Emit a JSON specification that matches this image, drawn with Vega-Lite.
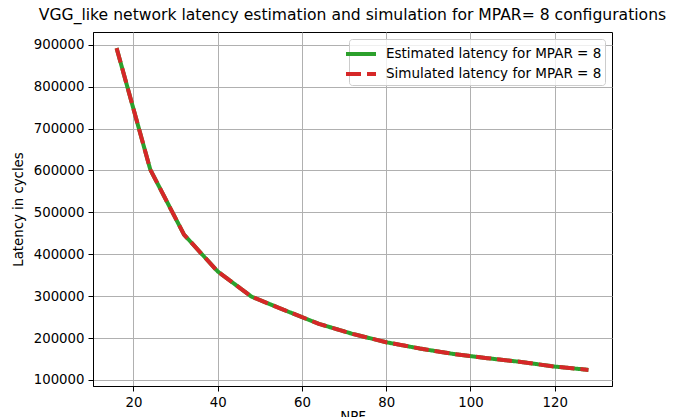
{
  "$schema": "https://vega.github.io/schema/vega-lite/v6.json",
  "width": 519,
  "height": 354,
  "autosize": {"type": "none"},
  "padding": {"left": 93, "top": 32, "right": 66, "bottom": 31},
  "background": "white",
  "config": {
    "font": "DejaVu Sans",
    "view": {"stroke": "black", "strokeWidth": 1},
    "axis": {
      "domainColor": "black",
      "tickColor": "black",
      "tickSize": 5,
      "labelPadding": 4,
      "labelFontSize": 13.3,
      "labelColor": "black",
      "titleFontSize": 13.3,
      "titleFontWeight": "normal",
      "titleColor": "black",
      "gridColor": "#b0b0b0",
      "gridWidth": 1
    }
  },
  "title": {
    "text": "VGG_like network latency estimation and simulation for MPAR= 8 configurations",
    "fontSize": 15.6,
    "fontWeight": "normal",
    "color": "black",
    "anchor": "middle",
    "offset": 8
  },
  "data": {
    "values": [
      {"NPF": 16, "latency": 892000, "series": "Estimated latency for MPAR = 8"},
      {"NPF": 24, "latency": 602000, "series": "Estimated latency for MPAR = 8"},
      {"NPF": 32, "latency": 447000, "series": "Estimated latency for MPAR = 8"},
      {"NPF": 40, "latency": 359000, "series": "Estimated latency for MPAR = 8"},
      {"NPF": 48, "latency": 299000, "series": "Estimated latency for MPAR = 8"},
      {"NPF": 56, "latency": 266000, "series": "Estimated latency for MPAR = 8"},
      {"NPF": 64, "latency": 234000, "series": "Estimated latency for MPAR = 8"},
      {"NPF": 72, "latency": 210000, "series": "Estimated latency for MPAR = 8"},
      {"NPF": 80, "latency": 190000, "series": "Estimated latency for MPAR = 8"},
      {"NPF": 88, "latency": 175000, "series": "Estimated latency for MPAR = 8"},
      {"NPF": 96, "latency": 162000, "series": "Estimated latency for MPAR = 8"},
      {"NPF": 104, "latency": 152000, "series": "Estimated latency for MPAR = 8"},
      {"NPF": 112, "latency": 143000, "series": "Estimated latency for MPAR = 8"},
      {"NPF": 120, "latency": 132000, "series": "Estimated latency for MPAR = 8"},
      {"NPF": 128, "latency": 124000, "series": "Estimated latency for MPAR = 8"},
      {"NPF": 16, "latency": 892000, "series": "Simulated latency for MPAR = 8"},
      {"NPF": 24, "latency": 602000, "series": "Simulated latency for MPAR = 8"},
      {"NPF": 32, "latency": 447000, "series": "Simulated latency for MPAR = 8"},
      {"NPF": 40, "latency": 359000, "series": "Simulated latency for MPAR = 8"},
      {"NPF": 48, "latency": 299000, "series": "Simulated latency for MPAR = 8"},
      {"NPF": 56, "latency": 266000, "series": "Simulated latency for MPAR = 8"},
      {"NPF": 64, "latency": 234000, "series": "Simulated latency for MPAR = 8"},
      {"NPF": 72, "latency": 210000, "series": "Simulated latency for MPAR = 8"},
      {"NPF": 80, "latency": 190000, "series": "Simulated latency for MPAR = 8"},
      {"NPF": 88, "latency": 175000, "series": "Simulated latency for MPAR = 8"},
      {"NPF": 96, "latency": 162000, "series": "Simulated latency for MPAR = 8"},
      {"NPF": 104, "latency": 152000, "series": "Simulated latency for MPAR = 8"},
      {"NPF": 112, "latency": 143000, "series": "Simulated latency for MPAR = 8"},
      {"NPF": 120, "latency": 132000, "series": "Simulated latency for MPAR = 8"},
      {"NPF": 128, "latency": 124000, "series": "Simulated latency for MPAR = 8"}
    ]
  },
  "mark": {"type": "line", "strokeWidth": 4, "clip": true},
  "encoding": {
    "x": {
      "field": "NPF",
      "type": "quantitative",
      "scale": {"domain": [10.4, 133.6], "nice": false, "zero": false},
      "axis": {"values": [20, 40, 60, 80, 100, 120], "format": "d", "title": "NPF", "titlePadding": 1}
    },
    "y": {
      "field": "latency",
      "type": "quantitative",
      "scale": {"domain": [85600, 930400], "nice": false, "zero": false},
      "axis": {
        "values": [100000, 200000, 300000, 400000, 500000, 600000, 700000, 800000, 900000],
        "format": "d",
        "title": "Latency in cycles",
        "titlePadding": 8
      }
    },
    "color": {
      "field": "series",
      "type": "nominal",
      "scale": {
        "domain": ["Estimated latency for MPAR = 8", "Simulated latency for MPAR = 8"],
        "range": ["#2ca02c", "#d62728"]
      },
      "legend": {
        "title": null,
        "orient": "top-right",
        "offset": 7,
        "symbolType": "M-1.8,0H1.2",
        "symbolSize": 400,
        "symbolStrokeWidth": 4,
        "symbolOffset": 0,
        "labelFontSize": 13.5,
        "labelColor": "black",
        "labelOffset": 10,
        "labelLimit": 0,
        "rowPadding": -5,
        "padding": 3,
        "fillColor": "rgba(255,255,255,0.8)",
        "strokeColor": "#cccccc",
        "cornerRadius": 3
      }
    },
    "strokeDash": {
      "field": "series",
      "type": "nominal",
      "scale": {
        "domain": ["Estimated latency for MPAR = 8", "Simulated latency for MPAR = 8"],
        "range": [[1, 0], [15, 6]]
      },
      "legend": null
    }
  }
}
